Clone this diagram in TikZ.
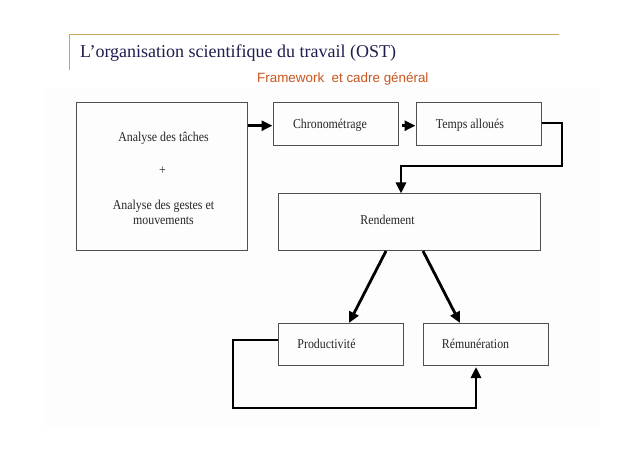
\documentclass[tikz,border=0pt]{standalone}
\usepackage{fontspec}
\usepackage{graphicx}
\setmainfont{Liberation Serif}
\newfontfamily\sansf{Liberation Sans}
\usetikzlibrary{arrows.meta}
\definecolor{navy}{RGB}{30,30,80}
\definecolor{goldline}{RGB}{200,170,85}
\definecolor{orangetxt}{RGB}{200,85,30}
\definecolor{boxline}{RGB}{80,80,80}
\newcommand{\sqz}[1]{\scalebox{0.88}[1]{#1}}
\tikzset{
  box/.style={draw=boxline, line width=1bp, inner sep=0pt},
  lbl/.style={font=\fontsize{13.5bp}{15bp}\selectfont, inner sep=0pt, text=black!85},
  conn/.style={line width=2.8bp, -{Triangle[length=11bp,width=10bp]}},
}
\begin{document}
\begin{tikzpicture}[x=1bp,y=-1bp]
\useasboundingbox (0,0) rectangle (638,452);
\fill[white] (0,0) rectangle (638,452);
\fill[black!0.8, rounded corners=3bp] (45,88) rectangle (600,428);
% header
\draw[goldline, line width=1bp] (69,35) -- (559,35);
\draw[goldline, line width=1bp] (69,35) -- (69,70);
\node[anchor=base west, inner sep=0pt, text=navy, font=\fontsize{18bp}{20bp}\selectfont] (title) at (80,58) {L’organisation scientifique du travail (OST)};
\node[anchor=base west, inner sep=0pt, text=orangetxt, font=\sansf\fontsize{13.4bp}{15bp}\selectfont] (sub) at (257,82.5) {Framework\ \ et cadre général};
% boxes
\node[box, minimum width=171bp, minimum height=147bp] (A) at (161.5,176.5) {};
\node[box, minimum width=125bp, minimum height=43bp] (C) at (335.5,124.5) {};
\node[box, minimum width=125bp, minimum height=43bp] (T) at (478.5,124.5) {};
\node[box, minimum width=262bp, minimum height=57bp] (R) at (409,222.5) {};
\node[box, minimum width=125bp, minimum height=42bp] (P) at (340.5,344) {};
\node[box, minimum width=125bp, minimum height=42bp] (M) at (485.5,344) {};
% texts
\node[lbl] (a1) at (163.5,138) {\sqz{Analyse des tâches}};
\node[lbl] (a2) at (162.5,171) {\sqz{+}};
\node[lbl] (a3) at (163.5,206) {\sqz{Analyse des gestes et}};
\node[lbl] (a4) at (163.5,221) {\sqz{mouvements}};
\node[lbl] (ct) at (330,125.5) {\sqz{Chronométrage}};
\node[lbl] (tt) at (470,125.5) {\sqz{Temps alloués}};
\node[lbl] (rt) at (387.5,219.5) {\sqz{Rendement}};
\node[lbl] (pt) at (326.5,344) {\sqz{Productivité}};
\node[lbl] (mt) at (475.5,344) {\sqz{Rémunération}};
% connectors
\coordinate (t1) at (562,123);
\coordinate (t2) at (562,166);
\coordinate (t3) at (401,166);
\draw[conn] (T.east |- 0,123) -- (t1) -- (t2) -- (t3) -- (t3 |- R.north);
\draw[conn] (A.east |- 0,125.7) -- (C.west |- 0,125.7);
\draw[conn] ([xshift=3bp]C.east |- 0,125.7) -- (T.west |- 0,125.7);
\coordinate (r1) at (386,251);
\coordinate (r2) at (349,323);
\coordinate (r3) at (423,251);
\coordinate (r4) at (460,323);
\draw[conn] (r1) -- (r2);
\draw[conn] (r3) -- (r4);
\coordinate (b1) at (233,340);
\coordinate (b2) at (233,408);
\coordinate (b3) at (476,408);
\coordinate (b4) at (476,367);
\draw[conn] (P.west |- b1) -- (b1) -- (b2) -- (b3) -- (b4);
\end{tikzpicture}
\end{document}
